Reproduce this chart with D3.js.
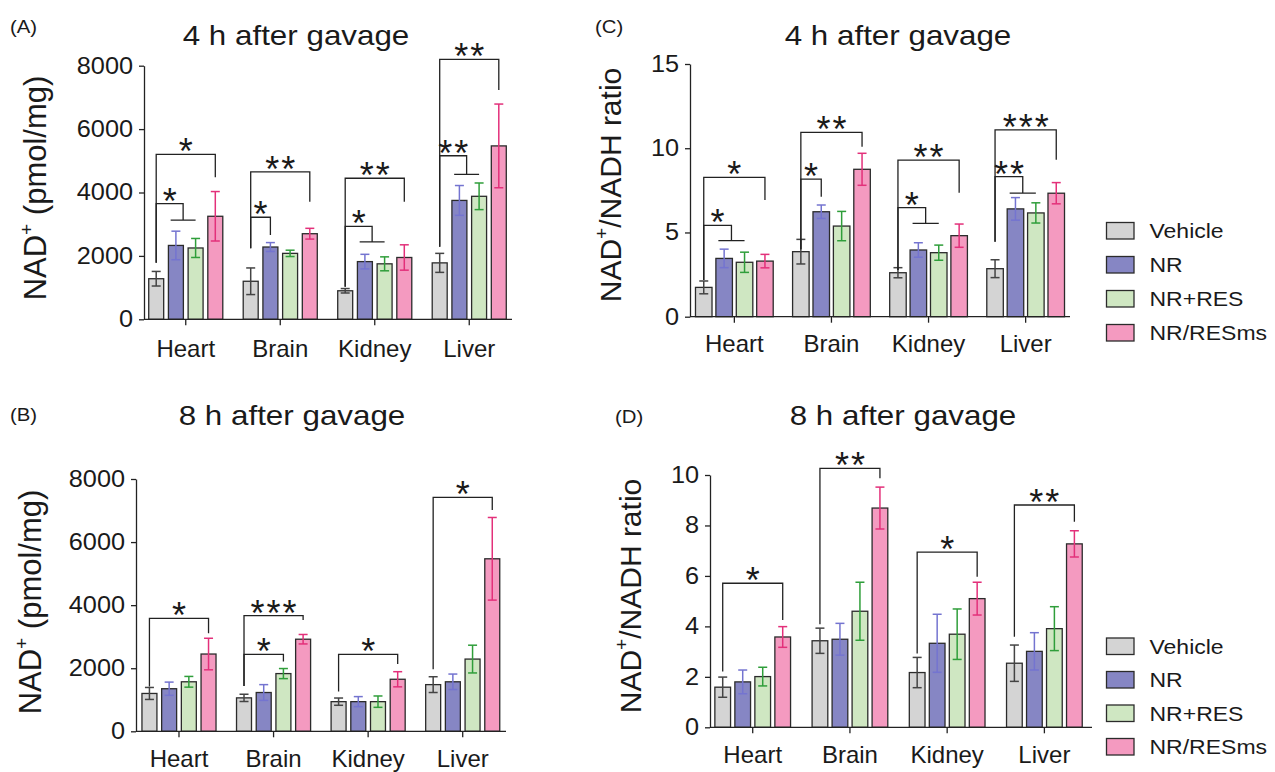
<!DOCTYPE html>
<html>
<head>
<meta charset="utf-8">
<script src="https://cdn.jsdelivr.net/npm/d3@7"></script>
<style>
  body { margin: 0; background: #fff; }
  svg { display: block; }
  text { font-family: "Liberation Sans", Arial, sans-serif; fill: #1a1a1a; }
</style>
</head>
<body>
<div id="chart"></div>
<script>
// categories and groups
const categories = ["Heart", "Brain", "Kidney", "Liver"];
const groups = ["Vehicle", "NR", "NR+RES", "NR/RESms"];

// NAD+ (pmol/mg), rows = organ, cols = group
const nad4hMean = [[1280, 2330, 2250, 3250], [1200, 2280, 2080, 2700], [900, 1820, 1750, 1950], [1780, 3750, 3880, 5470]];
const nad4hErr  = [[230, 450, 300, 780], [420, 140, 100, 170], [70, 230, 220, 400], [300, 470, 420, 1320]];
const nad8hMean = [[1200, 1350, 1570, 2450], [1060, 1230, 1830, 2920], [940, 940, 940, 1650], [1480, 1570, 2290, 5470]];
const nad8hErr  = [[190, 210, 170, 500], [115, 250, 160, 150], [115, 160, 180, 240], [250, 245, 440, 1310]];

// NAD+/NADH ratio
const ratio4hMean = [[1.74, 3.46, 3.23, 3.30], [3.86, 6.23, 5.38, 8.75], [2.61, 3.96, 3.80, 4.81], [2.85, 6.40, 6.16, 7.33]];
const ratio4hErr  = [[0.38, 0.55, 0.6, 0.4], [0.73, 0.4, 0.87, 0.95], [0.3, 0.43, 0.45, 0.69], [0.53, 0.67, 0.6, 0.63]];
const ratio8hMean = [[1.59, 1.80, 2.01, 3.58], [3.43, 3.49, 4.60, 8.69], [2.17, 3.33, 3.69, 5.10], [2.54, 3.01, 3.91, 7.27]];
const ratio8hErr  = [[0.4, 0.47, 0.37, 0.41], [0.5, 0.63, 1.15, 0.83], [0.6, 1.15, 1.0, 0.65], [0.72, 0.74, 0.87, 0.52]];

// tick labels
const nadTicks = [0, 2000, 4000, 6000, 8000];
const ratio4hTicks = [0, 5, 10, 15];
const ratio8hTicks = [0, 2, 4, 6, 8, 10];

// significance: [organ, from group, to groups, top, left foot, right foot, label]
const sigA = [
  ["Heart", 0, [3], 5200, 1780, 4480, "*"], ["Heart", 0, [1, 2], 3650, 1780, 3130, "*"],
  ["Brain", 0, [3], 4650, 2240, 3710, "**"], ["Brain", 0, [1], 3220, 2240, 2660, "*"],
  ["Kidney", 0, [3], 4450, 1030, 3710, "**"], ["Kidney", 0, [1, 2], 2930, 1030, 2440, "*"],
  ["Liver", 0, [3], 8200, 2290, 7230, "**"], ["Liver", 0, [1, 2], 5160, 2290, 4570, "**"]
];
const sigB = [
  ["Heart", 0, [3], 3580, 1420, 3110, "*"],
  ["Brain", 0, [3], 3670, 1440, 3530, "***"], ["Brain", 0, [2], 2440, 1440, 2210, "*"],
  ["Kidney", 0, [3], 2440, 1260, 2135, "*"],
  ["Liver", 0, [3], 7420, 1970, 7020, "*"]
];
const sigC = [
  ["Heart", 0, [3], 8.27, 2.18, 6.93, "*"], ["Heart", 0, [1, 2], 5.42, 2.18, 4.51, "*"],
  ["Brain", 0, [3], 10.94, 4.0, 10.09, "**"], ["Brain", 0, [1], 8.17, 4.0, 7.12, "*"],
  ["Kidney", 0, [3], 9.30, 2.77, 7.36, "**"], ["Kidney", 0, [1, 2], 6.47, 2.77, 5.54, "*"],
  ["Liver", 0, [3], 11.09, 4.45, 9.31, "***"], ["Liver", 0, [1, 2], 8.31, 4.45, 7.33, "**"]
];
const sigD = [
  ["Heart", 0, [3], 5.71, 2.21, 4.25, "*"],
  ["Brain", 0, [3], 10.26, 4.08, 9.87, "**"],
  ["Kidney", 0, [3], 6.94, 2.93, 5.97, "*"],
  ["Liver", 0, [3], 8.81, 3.59, 8.15, "**"]
];

const fills = ["#d4d4d4", "#8686c4", "#cfe7c2", "#f49ac0"];
const errColors = ["#444444", "#7474d0", "#2f9e3a", "#e3307a"];

const svg = d3.select("#chart").append("svg").attr("width", 1275).attr("height", 772);

function label(g, x, y, str, size, anchor, sx) {
  return g.append("text")
    .attr("transform", `translate(${x},${y}) scale(${sx || 1},1)`)
    .attr("font-size", size)
    .attr("text-anchor", anchor || "start")
    .text(str);
}

function drawPanel(p) {
  const g = svg.append("g");
  const y = d3.scaleLinear().domain([0, p.max]).range([p.y0, p.y1]);
  const x = d3.scaleBand().domain(categories).range(p.xr);
  const xi = d3.scaleBand().domain(d3.range(groups.length))
    .range([-2 * p.pitch, 2 * p.pitch]).paddingInner(p.pad).paddingOuter(p.pad / 2);
  const cx = (c, si) => x(c) + x.bandwidth() / 2 + xi(si) + xi.bandwidth() / 2;

  const recs = categories.flatMap((c, ci) => groups.map((s, si) => ({ c, si, v: p.mean[ci][si], e: p.err[ci][si] })));

  // bars
  g.selectAll("rect.bar").data(recs).enter().append("rect")
    .attr("x", d => cx(d.c, d.si) - xi.bandwidth() / 2)
    .attr("y", d => y(d.v))
    .attr("width", xi.bandwidth())
    .attr("height", d => y(0) - y(d.v))
    .attr("fill", d => fills[d.si])
    .attr("stroke", "#2b2b2b").attr("stroke-width", 1.3);

  // error bars
  const eb = g.selectAll("g.err").data(recs).enter().append("g")
    .attr("stroke", d => errColors[d.si]).attr("stroke-width", 1.5);
  eb.append("line")
    .attr("x1", d => cx(d.c, d.si)).attr("x2", d => cx(d.c, d.si))
    .attr("y1", d => y(d.v - d.e)).attr("y2", d => y(d.v + d.e));
  [1, -1].forEach(k => {
    eb.append("line")
      .attr("x1", d => cx(d.c, d.si) - 4.5).attr("x2", d => cx(d.c, d.si) + 4.5)
      .attr("y1", d => y(d.v + k * d.e)).attr("y2", d => y(d.v + k * d.e));
  });

  // y axis
  const ya = g.append("g").attr("transform", `translate(${p.ax},0)`)
    .call(d3.axisLeft(y).tickValues(p.ticks).tickSize(5).tickSizeOuter(0).tickPadding(5).tickFormat(d3.format("d")));
  ya.select(".domain").attr("stroke", "#222").attr("stroke-width", 1.3);
  ya.selectAll(".tick line").attr("stroke", "#222").attr("stroke-width", 1.3);
  ya.selectAll(".tick text").attr("font-size", 23).attr("font-family", null)
    .attr("transform", "scale(1.1,1)").attr("fill", "#1a1a1a");

  // x axis
  const xa = g.append("g").attr("transform", `translate(0,${p.y0})`)
    .call(d3.axisBottom(x).tickSize(6).tickSizeOuter(0));
  xa.select(".domain").remove();
  xa.selectAll(".tick line").attr("stroke", "#222").attr("stroke-width", 1.3);
  xa.selectAll(".tick text").attr("font-size", 24).attr("font-family", null)
    .attr("y", p.catY - p.y0).attr("dy", null).attr("fill", "#1a1a1a");
  g.append("line").attr("x1", p.ax).attr("x2", p.axEnd).attr("y1", p.y0).attr("y2", p.y0)
    .attr("stroke", "#222").attr("stroke-width", 1.3);

  // significance brackets
  p.sig.forEach(s => {
    const [c, from, to, top, lf, rf, lab] = s;
    const xl = cx(c, from);
    let xr, extra = "";
    if (to.length === 1) {
      xr = cx(c, to[0]);
    } else {
      const c0 = cx(c, to[0]) - xi.bandwidth() * 0.35, c1 = cx(c, to[to.length - 1]);
      xr = (c0 + c1) / 2;
      extra = `M${c0},${y(rf)}H${c1}`;
    }
    g.append("path")
      .attr("d", `M${xl},${y(lf)}V${y(top)}H${xr}V${y(rf)}` + extra)
      .attr("fill", "none").attr("stroke", "#222").attr("stroke-width", 1.3);
    g.append("text")
      .attr("x", (xl + xr) / 2 + 1).attr("y", y(top) + 10)
      .attr("text-anchor", "middle").attr("font-size", 36).attr("letter-spacing", 2)
      .text(lab);
  });

  // titles and labels
  label(g, p.lx, p.ly, p.label, 18, "start", 1.13);
  label(g, p.tx, p.ty, p.title, 28, "middle", 1.12);

  const yl = g.append("text")
    .attr("transform", `translate(${p.ylx},${p.yly}) rotate(-90)`)
    .attr("text-anchor", "middle").attr("font-size", p.ylSize);
  yl.append("tspan").text("NAD");
  yl.append("tspan").attr("font-size", 19).attr("dy", -13).text("+");
  yl.append("tspan").attr("dy", 13).text(p.ylRest);
}

function drawLegend(x0, y0, pitch) {
  const lg = svg.append("g");
  groups.forEach((s, i) => {
    lg.append("rect").attr("x", x0).attr("y", y0 + i * pitch).attr("width", 27.5).attr("height", 16.5)
      .attr("fill", fills[i]).attr("stroke", "#2b2b2b").attr("stroke-width", 1.3);
    label(lg, x0 + 43, y0 + i * pitch + 15.5, s, 20, "start", 1.15);
  });
}

const panels = [
  { label: "(A)", lx: 10, ly: 33, title: "4 h after gavage", tx: 296, ty: 45,
    ylRest: " (pmol/mg)", ylx: 46, yly: 188, ylSize: 31,
    mean: nad4hMean, err: nad4hErr, sig: sigA, max: 8000, ticks: nadTicks,
    y0: 319.3, y1: 65.7, ax: 144, axEnd: 512, xr: [138.5, 516.5], pitch: 19.7, pad: 0.24, catY: 357 },
  { label: "(B)", lx: 10, ly: 421, title: "8 h after gavage", tx: 292, ty: 425,
    ylRest: " (pmol/mg)", ylx: 41, yly: 602, ylSize: 31,
    mean: nad8hMean, err: nad8hErr, sig: sigB, max: 8000, ticks: nadTicks,
    y0: 731.3, y1: 479, ax: 136, axEnd: 506, xr: [131.7, 510], pitch: 19.7, pad: 0.24, catY: 767 },
  { label: "(C)", lx: 595, ly: 33, title: "4 h after gavage", tx: 898, ty: 45,
    ylRest: "/NADH ratio", ylx: 621, yly: 185, ylSize: 30,
    mean: ratio4hMean, err: ratio4hErr, sig: sigC, max: 15, ticks: ratio4hTicks,
    y0: 316.7, y1: 64, ax: 690, axEnd: 1070, xr: [685.8, 1074.2], pitch: 20.4, pad: 0.19, catY: 351.7 },
  { label: "(D)", lx: 615, ly: 423, title: "8 h after gavage", tx: 903, ty: 425,
    ylRest: "/NADH ratio", ylx: 641, yly: 596, ylSize: 30,
    mean: ratio8hMean, err: ratio8hErr, sig: sigD, max: 10, ticks: ratio8hTicks,
    y0: 727.3, y1: 475, ax: 710, axEnd: 1092, xr: [704.1, 1093], pitch: 20, pad: 0.215, catY: 762.7 }
];

panels.forEach(drawPanel);
drawLegend(1106.5, 222.5, 34);
drawLegend(1106.5, 638, 33.5);
</script>
</body>
</html>
